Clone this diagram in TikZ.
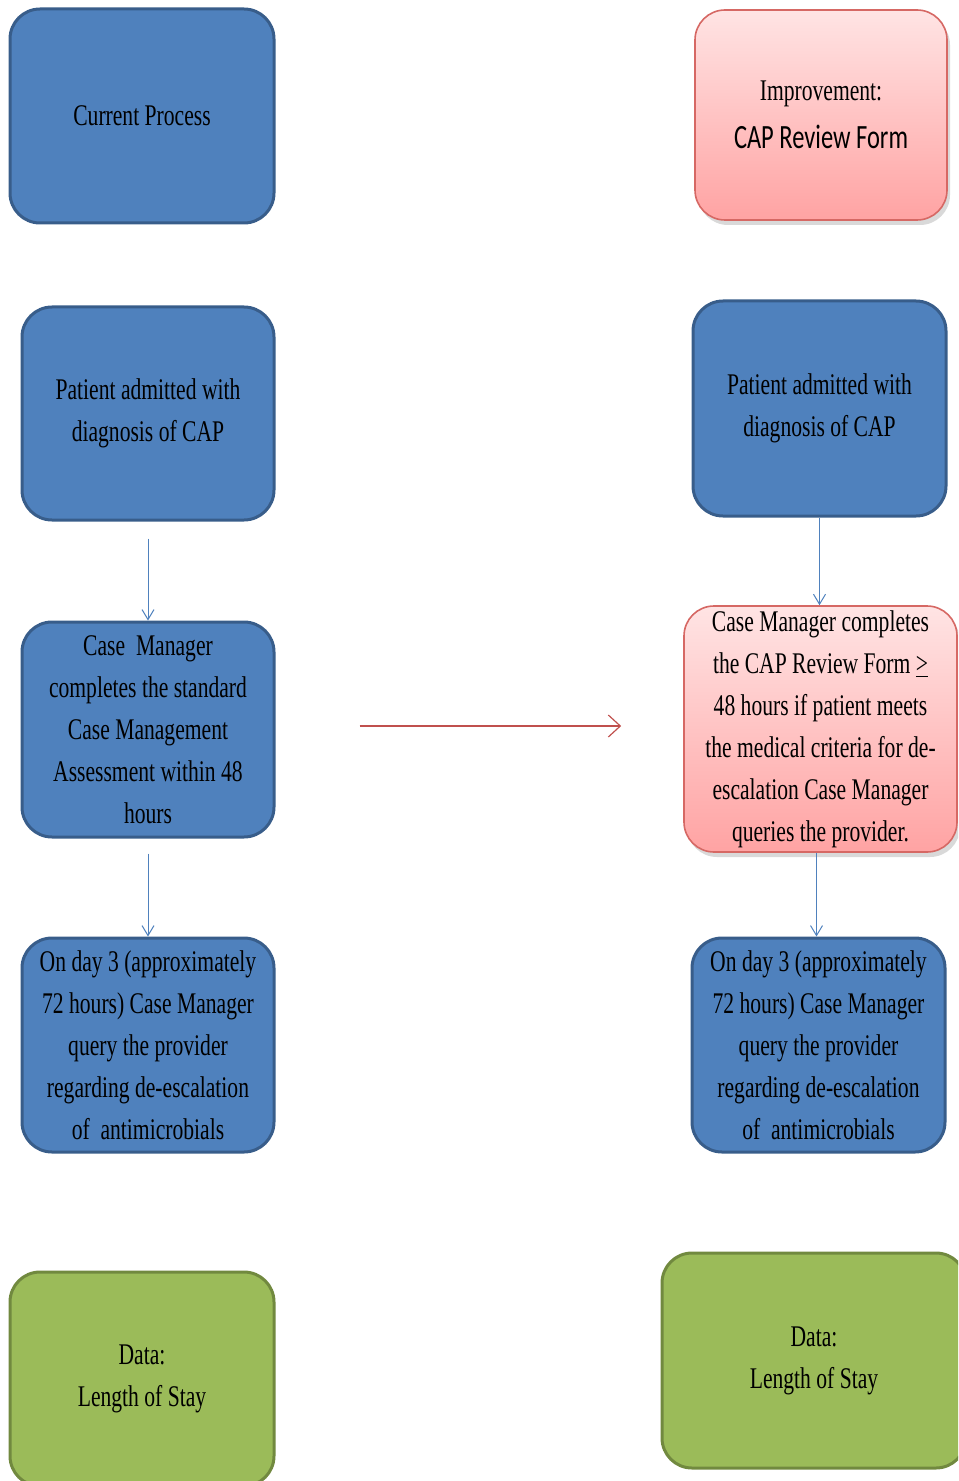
\documentclass[tikz,border=0pt]{standalone}
\usepackage{fontspec}
\setmainfont[FakeStretch=0.72]{Liberation Serif}
\newfontfamily\capfont[FakeStretch=0.72]{Carlito}
\usetikzlibrary{arrows.meta, shadows}
\definecolor{procBlue}{RGB}{79, 129, 189}
\definecolor{procBlueLine}{RGB}{56, 93, 138}
\definecolor{procGreen}{RGB}{155, 187, 89}
\definecolor{procGreenLine}{RGB}{113, 137, 63}
\definecolor{pinkTop}{RGB}{255, 228, 228}
\definecolor{pinkBottom}{RGB}{255, 163, 163}
\definecolor{pinkLine}{RGB}{214, 104, 100}
\definecolor{arrowBlue}{RGB}{79, 129, 189}
\definecolor{arrowRed}{RGB}{192, 80, 77}

\tikzset{
  procbox/.style={rectangle, rounded corners=15pt, line width=1.5pt, align=center,
                  inner sep=0pt, font=\fontsize{15}{21}\selectfont},
  bluebox/.style={procbox, draw=procBlueLine, fill=procBlue},
  greenbox/.style={procbox, draw=procGreenLine, fill=procGreen},
  pinkbox/.style={procbox, draw=pinkLine, line width=0.8pt, top color=pinkTop, bottom color=pinkBottom,
                  drop shadow={opacity=0.3, shadow xshift=1.5pt, shadow yshift=-2.5pt}},
  flowline/.style={-{Straight Barb[length=5pt, width=6pt]}, draw=arrowBlue, line width=0.5pt},
  redline/.style={-{Straight Barb[length=6pt, width=11pt]}, draw=arrowRed, line width=0.6pt},
}

\begin{document}
\begin{tikzpicture}[x=0.5pt, y=-0.5pt]
  \useasboundingbox (0,0) rectangle (958,1481);
  \clip (0,0) rectangle (958,1481);

  % current process column
  \node[bluebox, minimum width=132pt, minimum height=107pt] (cur) at (142,116) {Current Process};
  \node[bluebox, minimum width=126pt, minimum height=106.5pt] (admitL) at (148,413.5)
    {Patient admitted with\\diagnosis of CAP};
  \node[bluebox, minimum width=126pt, minimum height=107.5pt] (caseL) at (148,729.5)
    {Case\ \ Manager\\completes the standard\\Case Management\\Assessment within 48\\hours};
  \node[bluebox, minimum width=126pt, minimum height=107pt] (dayL) at (148,1045)
    {On day 3 (approximately\\72 hours) Case Manager\\query the provider\\regarding de-escalation\\of\ \ antimicrobials};
  \node[greenbox, minimum width=132pt, minimum height=107pt] (dataL) at (142,1379)
    {Data:\\Length of Stay};

  % improvement column
  \node[pinkbox, minimum width=126pt, minimum height=105pt] (imp) at (821,115)
    {Improvement:\\[3pt]{\capfont\fontsize{17}{21}\selectfont CAP Review Form}};
  \node[bluebox, minimum width=126.5pt, minimum height=107.5pt] (admitR) at (819.5,408.5)
    {Patient admitted with\\diagnosis of CAP};
  \node[pinkbox, minimum width=136.5pt, minimum height=123pt] (caseR) at (820.5,729)
    {Case Manager completes\\the CAP Review Form \underline{>}\\48 hours if patient meets\\the medical criteria for de-\\escalation Case Manager\\queries the provider.};
  \node[bluebox, minimum width=126.5pt, minimum height=107pt] (dayR) at (818.5,1045)
    {On day 3 (approximately\\72 hours) Case Manager\\query the provider\\regarding de-escalation\\of\ \ antimicrobials};
  \node[greenbox, minimum width=152pt, minimum height=107.5pt] (dataR) at (814,1360.5)
    {Data:\\Length of Stay};

  % connectors
  \draw[flowline, shorten <=8.5pt] (admitL) -- (caseL);
  \draw[flowline, shorten <=7.5pt] (caseL) -- (dayL);
  \draw[flowline] (admitR.south) -- (admitR.south |- caseR.north);
  \draw[flowline] ([xshift=-2pt]caseR.south) -- ([xshift=-2pt]caseR.south |- dayR.north);
  \draw[redline, shorten <=42pt, shorten >=31pt] (caseL.east |- 0,726) -- (caseR.west |- 0,726);
\end{tikzpicture}
\end{document}
